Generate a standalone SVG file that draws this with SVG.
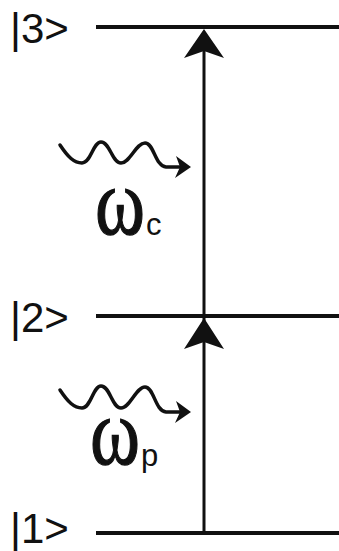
<svg xmlns="http://www.w3.org/2000/svg" width="339" height="551" viewBox="0 0 339 551">
<style>
.lvl{stroke:#111;stroke-width:4;fill:none}
.lab{font-family:"Liberation Sans",Arial,sans-serif;font-size:42px;fill:#111}
.wave{stroke:#111;stroke-width:3.5;fill:none;stroke-linecap:round}
.head{fill:#111}
.om{font-family:"Liberation Serif","Times New Roman",serif;font-size:76px;fill:#111;stroke:#111;stroke-width:1}
.sub{font-family:"Liberation Sans",Arial,sans-serif;font-size:31px;fill:#111}
</style>
<rect width="339" height="551" fill="#fff"/>
<g id="level3"><line class="lvl" x1="96" y1="27" x2="339" y2="27"/><text class="lab" x="10" y="43">|3&gt;</text></g>
<g id="level2"><line class="lvl" x1="96" y1="316" x2="339" y2="316"/><text class="lab" x="10" y="332">|2&gt;</text></g>
<g id="level1"><line class="lvl" x1="96" y1="533" x2="339" y2="533"/><text class="lab" x="10" y="543">|1&gt;</text></g>
<g id="connectors">
<line x1="204" y1="533" x2="204" y2="45" stroke="#111" stroke-width="3"/>
<polygon class="head" points="204,29 224,58 204,51 184,58"/>
<polygon class="head" points="204,318 224,349 204,342 184,349"/>
</g>
<g id="coupling">
<path class="wave" d="M60,145 C68,157 74,163 82,163 C91,163 93,142 101,142 C110,142 112,163 121,163 C130,163 136,143 145,143 C154,143 155,166 166,167 L182,167"/>
<polygon class="head" points="191,167 176,156 180,167 175,178"/>
<text class="om" transform="translate(95,234) scale(1,1.25)">ω</text><text class="sub" x="146" y="235">c</text>
</g>
<g id="probe">
<path class="wave" d="M60,390 C68,402 74,408 82,408 C91,408 93,386 101,386 C110,386 112,408 121,408 C130,408 136,387 145,387 C154,387 155,411 166,412 L182,412"/>
<polygon class="head" points="191,412 176,401 180,412 175,423"/>
<text class="om" transform="translate(90,464) scale(1,1.25)">ω</text><text class="sub" x="141" y="466">p</text>
</g>
</svg>
